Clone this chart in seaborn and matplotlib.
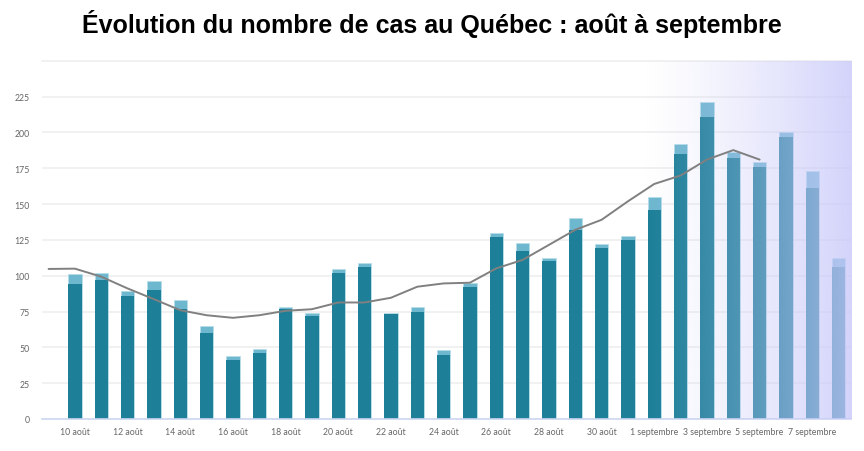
import numpy as np
import pandas as pd
import seaborn as sns
import matplotlib.pyplot as plt
from matplotlib.colors import to_rgb

# jours affichés (10 août -> 8 septembre)
dates = ["10 août", "11 août", "12 août", "13 août", "14 août", "15 août", "16 août",
         "17 août", "18 août", "19 août", "20 août", "21 août", "22 août", "23 août",
         "24 août", "25 août", "26 août", "27 août", "28 août", "29 août", "30 août",
         "31 août", "1 septembre", "2 septembre", "3 septembre", "4 septembre",
         "5 septembre", "6 septembre", "7 septembre", "8 septembre"]
cas_total = [101, 102, 89, 96, 83, 65, 44, 49, 78, 74, 105, 109, 74, 78, 48,
             95, 130, 123, 112, 140, 122, 128, 155, 192, 221, 186, 179, 200, 173, 112]
cas_base = [94, 97, 86, 90, 77, 60, 41, 46, 77, 72, 102, 106, 73, 75, 45,
            92, 127, 117, 110, 132, 119, 125, 146, 185, 211, 182, 176, 197, 161, 106]

# moyenne mobile, du 9 août (jour -1) au 5 septembre (jour 26)
moy_jours = list(range(-1, 27))
moy_valeurs = [104.7, 104.9, 99.3, 91.1, 83.6, 75.9, 72.4, 70.6, 72.4, 75.5, 76.6,
               81.3, 81.3, 84.6, 92.3, 94.6, 95.1, 105.1, 111, 121.5, 132, 139,
               151.9, 164, 169.9, 181, 187.6, 181]

df = pd.DataFrame({"jour": range(len(dates)), "date": dates,
                   "total": cas_total, "base": cas_base})
moy_df = pd.DataFrame({"jour": moy_jours, "moyenne": moy_valeurs})

sns.set_style("white")
plt.rcParams["font.family"] = ["Lato", "DejaVu Sans"]

fig = plt.figure(figsize=(8.64, 4.52), dpi=100)
ax = fig.add_axes([42 / 864, 32 / 452, 809 / 864, 358.3 / 452])

sns.barplot(data=df, x="jour", y="total", native_scale=True, width=0.5,
            color="#6db7cf", saturation=1, edgecolor="#b7dde9", linewidth=0.5, ax=ax)
sns.barplot(data=df, x="jour", y="base", native_scale=True, width=0.5,
            color="#1d8098", saturation=1, edgecolor="none", ax=ax)
sns.lineplot(data=moy_df, x="jour", y="moyenne", color="#808080", lw=1.4, ax=ax, zorder=6)

xlim = (-1.25, 29.47)
ylim = (0, 250)

# dégradé lavande à droite
n = 300
t = np.linspace(0, 1, n)
grad = np.zeros((1, n, 4))
grad[0, :, :3] = to_rgb("#c8c8fa")
grad[0, :, 3] = 0.78 * t ** 1.25
ax.imshow(grad, extent=[21.6, xlim[1], ylim[0], ylim[1]], aspect="auto",
          interpolation="bilinear", zorder=5)

ax.set_xlim(*xlim)
ax.set_ylim(*ylim)
ax.set_xticks(range(0, 30, 2))
ax.set_xticklabels(dates[::2])
ax.set_yticks(range(0, 226, 25))
ax.set_xlabel("")
ax.set_ylabel("")
ax.grid(axis="y", color="#ededed", lw=1.1)
ax.set_axisbelow(True)

for s in ["left", "right"]:
    ax.spines[s].set_visible(False)
ax.spines["top"].set_color("#ededed")
ax.spines["top"].set_linewidth(1.1)
ax.spines["bottom"].set_color("#cdd7f2")
ax.spines["bottom"].set_linewidth(1.2)

ax.tick_params(axis="x", length=4, width=1, color="#cdd7f2", pad=2,
               labelsize=6.3, labelcolor="#666666")
ax.tick_params(axis="y", length=0, pad=9, labelsize=6.3, labelcolor="#666666")

fig.suptitle("Évolution du nombre de cas au Québec : août à septembre",
             x=0.5, y=0.978, fontsize=18, fontweight="bold", color="black",
             family=["Liberation Sans", "DejaVu Sans"])

plt.savefig("out.png", dpi=100)
